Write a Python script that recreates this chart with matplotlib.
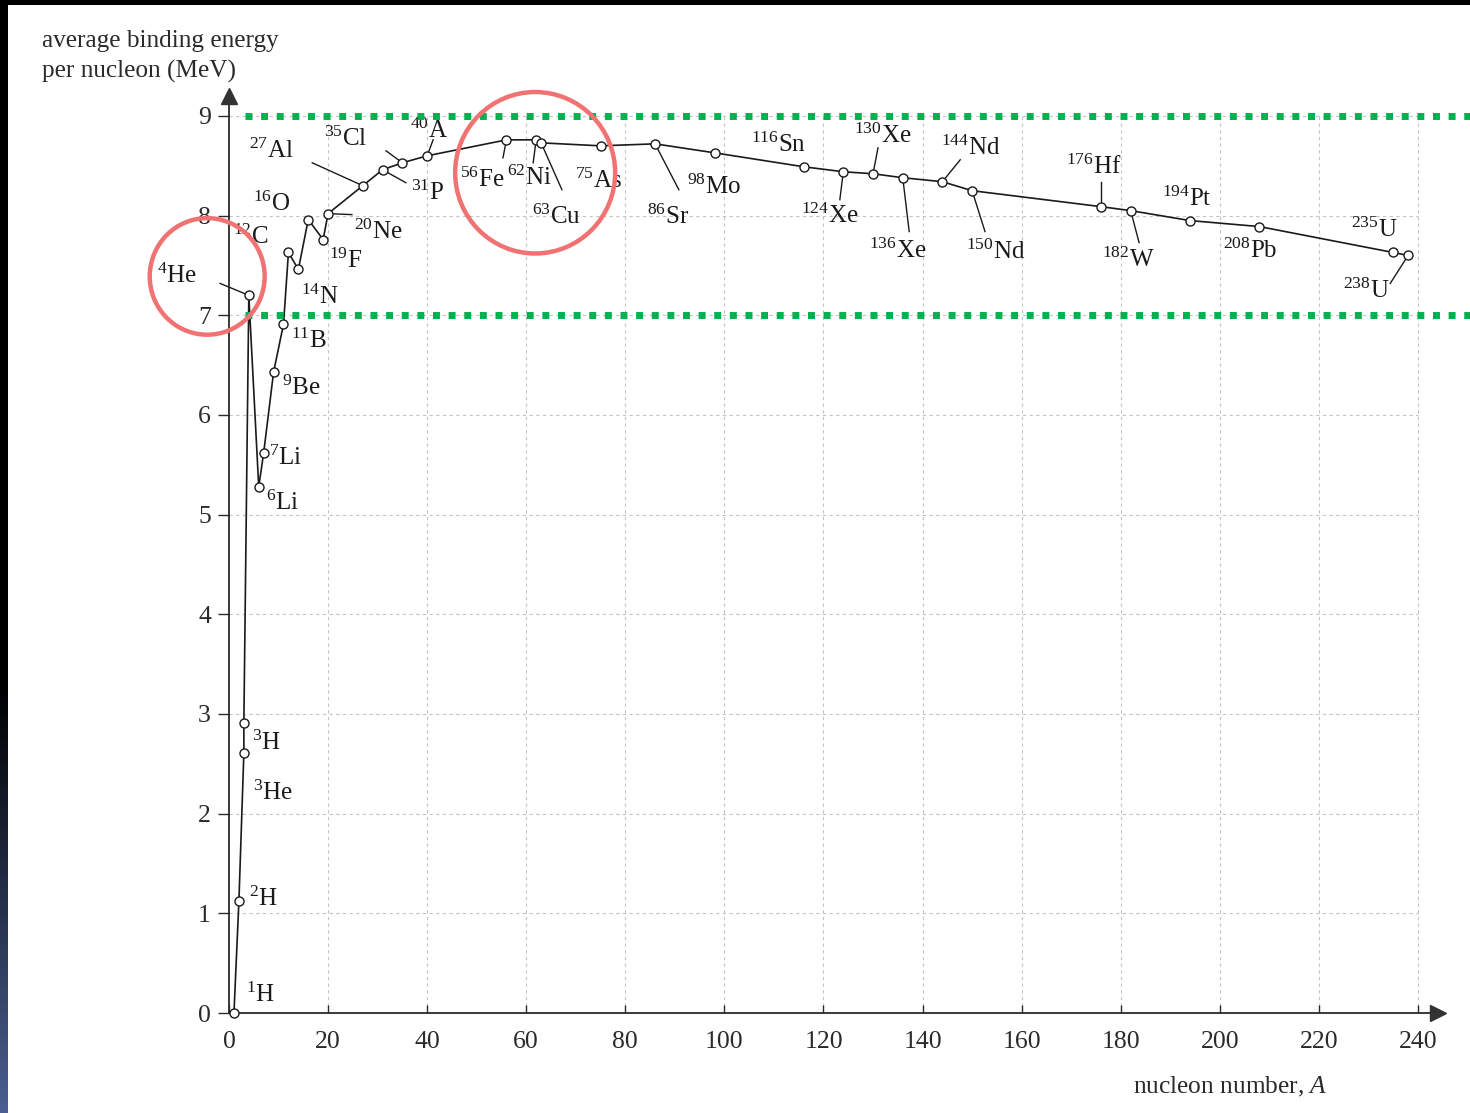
import numpy as np
import matplotlib
matplotlib.use("Agg")
import matplotlib.pyplot as plt
from matplotlib.patches import Ellipse

plt.rcParams['font.family'] = ['Liberation Serif', 'DejaVu Serif']
plt.rcParams['mathtext.fontset'] = 'custom'
plt.rcParams['mathtext.rm'] = 'Liberation Serif'
plt.rcParams['mathtext.it'] = 'Liberation Serif:italic'

# ---------------- data ----------------
nuclides = ['1H', '2H', '3He', '3H', '4He', '6Li', '7Li', '9Be', '11B', '12C', '14N', '16O',
            '19F', '20Ne', '27Al', '31P', '35Cl', '40A', '56Fe', '62Ni', '63Cu', '75As',
            '86Sr', '98Mo', '116Sn', '124Xe', '130Xe', '136Xe', '144Nd', '150Nd', '176Hf',
            '182W', '194Pt', '208Pb', '235U', '238U']
mass_number = [1, 2, 3, 3, 4, 6, 7, 9, 11, 12, 14, 16, 19, 20, 27, 31, 35, 40, 56, 62, 63, 75,
               86, 98, 116, 124, 130, 136, 144, 150, 176, 182, 194, 208, 235, 238]
binding_energy = [0.0, 1.12, 2.61, 2.91, 7.20, 5.28, 5.62, 6.43, 6.91, 7.63, 7.46, 7.96,
                  7.76, 8.02, 8.30, 8.46, 8.53, 8.60, 8.76, 8.76, 8.73, 8.70,
                  8.72, 8.63, 8.49, 8.44, 8.42, 8.38, 8.34, 8.25, 8.09,
                  8.05, 7.95, 7.89, 7.63, 7.60]
x_ticks = [0, 20, 40, 60, 80, 100, 120, 140, 160, 180, 200, 220, 240]
y_ticks = [0, 1, 2, 3, 4, 5, 6, 7, 8, 9]
stable_band = [7, 9]

# ---------------- layout (label positions & leader-line ends) ----------------
label_pos = {
    '1H': (6.3, 0.18), '2H': (7.0, 1.15), '3H': (7.5, 2.71), '3He': (8.9, 2.21),
    '4He': (-10.5, 7.40), '6Li': (10.9, 5.12), '7Li': (11.4, 5.57), '9Be': (14.5, 6.27),
    '11B': (16.2, 6.74), '12C': (4.4, 7.79), '14N': (18.4, 7.18), '16O': (8.6, 8.12),
    '19F': (23.6, 7.55), '20Ne': (30.2, 7.84), '27Al': (8.5, 8.65), '35Cl': (23.6, 8.77),
    '31P': (40.0, 8.23), '40A': (40.4, 8.85), '56Fe': (51.2, 8.36), '62Ni': (60.6, 8.38),
    '63Cu': (66.2, 7.99), '75As': (74.5, 8.35), '86Sr': (88.6, 7.99), '98Mo': (97.9, 8.29),
    '116Sn': (111.0, 8.71), '124Xe': (121.2, 8.00), '130Xe': (132.0, 8.80),
    '136Xe': (135.0, 7.65), '144Nd': (149.8, 8.68), '150Nd': (154.8, 7.64),
    '176Hf': (174.6, 8.49), '182W': (181.5, 7.56), '194Pt': (193.4, 8.17),
    '208Pb': (206.2, 7.65), '235U': (231.2, 7.86), '238U': (229.5, 7.25),
}
leader_end = {
    '4He': (-1.8, 7.32), '20Ne': (24.8, 8.01), '27Al': (16.8, 8.53), '35Cl': (31.7, 8.65),
    '31P': (35.7, 8.33), '40A': (41.2, 8.76), '56Fe': (55.3, 8.58), '62Ni': (61.4, 8.53),
    '63Cu': (67.2, 8.26), '86Sr': (90.8, 8.26), '124Xe': (123.3, 8.16),
    '130Xe': (131.0, 8.68), '136Xe': (137.3, 7.84), '144Nd': (147.6, 8.56),
    '150Nd': (152.6, 7.84), '176Hf': (176.0, 8.34), '182W': (183.7, 7.73),
    '238U': (234.4, 7.32),
}


def pretty(name):
    num = ''.join(c for c in name if c.isdigit())
    sym = ''.join(c for c in name if not c.isdigit())
    return r'$^{%s}$%s' % (num, sym)


W, H = 1470, 1113
fig = plt.figure(figsize=(W / 100, H / 100), dpi=100)
fig.patch.set_facecolor('white')

ax = fig.add_axes([229 / W, 100 / H, 1208.8 / W, 917 / H])
ax.set_xlim(0, 244)
ax.set_ylim(0, 9.2)
ax.set_facecolor('white')

grid_kw = dict(color='#c4c4c4', lw=0.8, linestyle=(0, (3, 3)), zorder=0)
ax.vlines(x_ticks[1:], 0, y_ticks[-1], **grid_kw)
ax.hlines(y_ticks[1:], 0, x_ticks[-1], **grid_kw)

for s in ['top', 'right']:
    ax.spines[s].set_visible(False)
for s in ['left', 'bottom']:
    ax.spines[s].set_color('#2a2a2a')
    ax.spines[s].set_linewidth(1.3)
ax.plot(1, 0, '>', color='#333333', ms=11, transform=ax.transAxes, clip_on=False, zorder=5)
ax.plot(0, 1, '^', color='#333333', ms=11, transform=ax.transAxes, clip_on=False, zorder=5)

ax.set_xticks(x_ticks)
ax.set_yticks(y_ticks)
ax.tick_params(axis='x', direction='in', length=6, width=1, pad=13, labelsize=18.5,
               colors='#2a2a2a')
ax.tick_params(axis='y', direction='out', length=8, width=1, pad=5, labelsize=18.5,
               colors='#2a2a2a')

# curve
ax.plot(mass_number, binding_energy, '-', color='#1a1a1a', lw=1.2, zorder=3)
ax.plot(mass_number, binding_energy, 'o', ms=6.5, mfc='white', mec='#1a1a1a', mew=1.0,
        zorder=4, clip_on=False)

# labels and leaders
for name, a, e in zip(nuclides, mass_number, binding_energy):
    tx, ty = label_pos[name]
    ax.text(tx, ty, pretty(name), fontsize=18, ha='center', va='center', color='#1a1a1a',
            zorder=6, clip_on=False)
    if name in leader_end:
        lx, ly = leader_end[name]
        ax.plot([a, lx], [e, ly], color='#1a1a1a', lw=1.0, zorder=3, clip_on=False)

# green dotted band
for yv in stable_band:
    ax.plot([3.3, 251.0], [yv, yv], color='#00b14f', lw=5.0, linestyle=(0, (1, 1.25)),
            dash_capstyle='butt', zorder=7, clip_on=False)

# red highlight circles
ax.add_patch(Ellipse((-4.4, 7.39), 23.2, 1.17, fill=False, ec='#f07272', lw=3.2,
                     zorder=8, clip_on=False))
ax.add_patch(Ellipse((61.8, 8.43), 32.3, 1.62, fill=False, ec='#f07272', lw=3.2,
                     zorder=8, clip_on=False))

fig.text(42 / W, 1 - 30 / H, 'average binding energy\nper nucleon (MeV)', fontsize=18.2,
         ha='left', va='top', linespacing=1.45, color='#2a2a2a')
fig.text(1133 / W, 1 - 1087 / H, r'nucleon number, $A$', fontsize=18.3, ha='left',
         va='center', color='#2a2a2a')

# dark frame edges of the screenshot
top_ax = fig.add_axes([0, 1 - 5 / H, 1, 5 / H])
top_ax.axis('off')
top_ax.add_patch(plt.Rectangle((0, 0), 1, 1, color='black', transform=top_ax.transAxes))
left_ax = fig.add_axes([0, 0, 7 / W, 1])
grad = np.zeros((200, 1, 3))
tt = np.linspace(0, 1, 200)
frac = np.clip((tt - 0.62) / 0.38, 0, 1)
for i, c in enumerate([0x4a, 0x5f, 0x90]):
    grad[:, 0, i] = frac * c / 255.0
left_ax.imshow(grad, aspect='auto', extent=[0, 1, 1, 0])
left_ax.set_xlim(0, 1)
left_ax.set_ylim(1, 0)
left_ax.axis('off')

fig.savefig('out.png', dpi=100, facecolor='white')
